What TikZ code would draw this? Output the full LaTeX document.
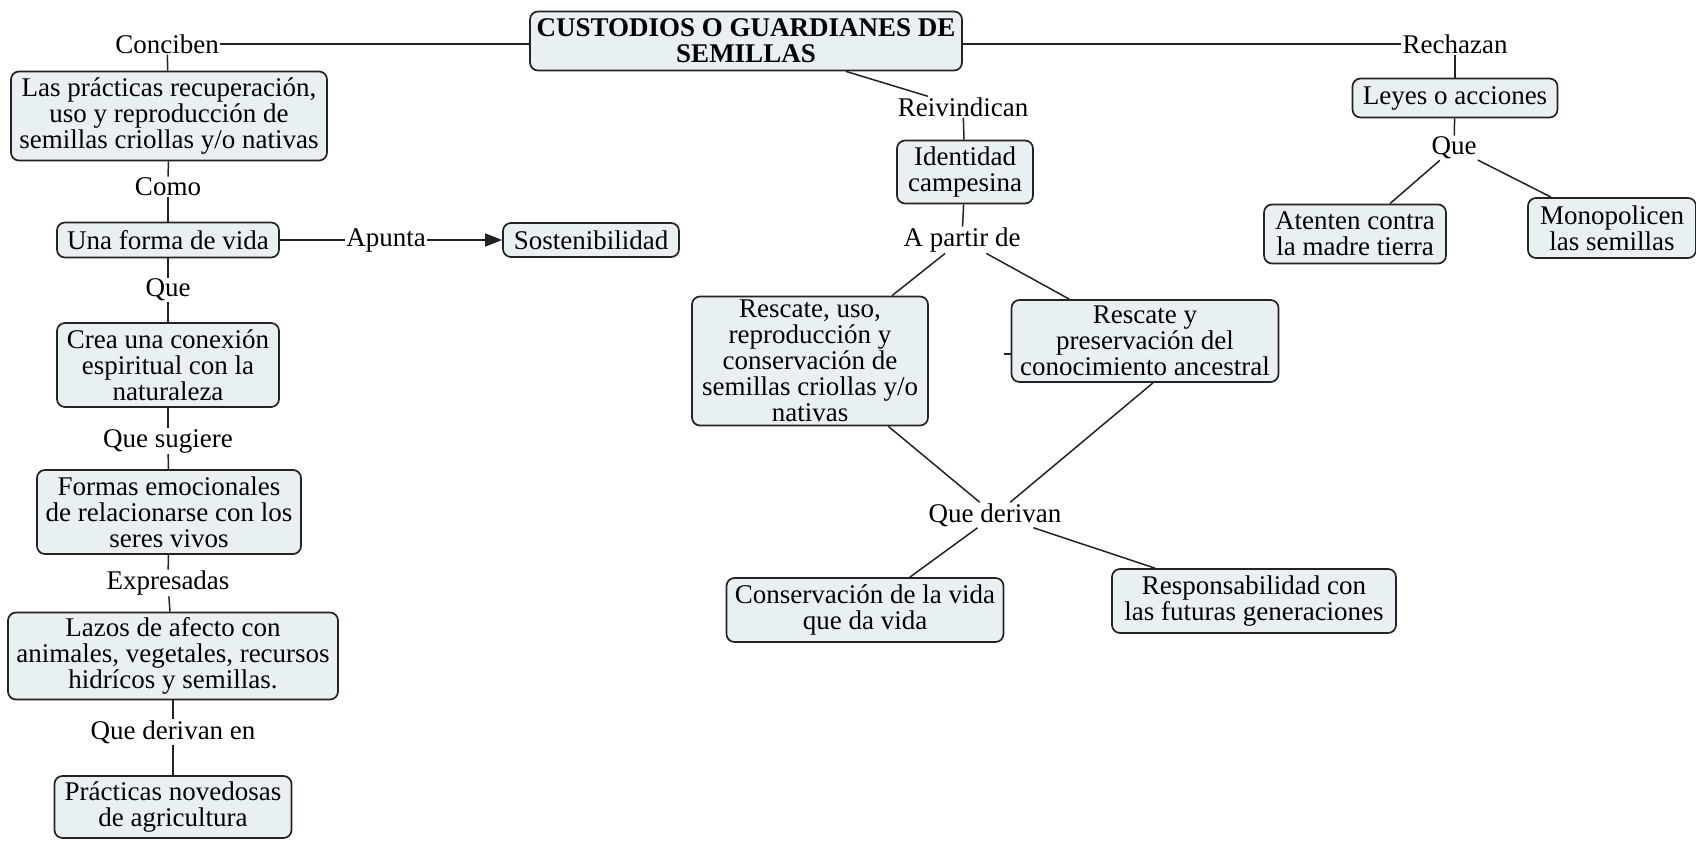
\documentclass[tikz,border=0pt]{standalone}
\usepackage{fontspec}
\setmainfont{Liberation Serif}
\usetikzlibrary{arrows.meta}
\definecolor{boxfill}{RGB}{233,240,243}
\definecolor{edge}{RGB}{35,35,35}
\begin{document}
\begin{tikzpicture}[x=1pt,y=-1pt,
  every node/.style={font=\fontsize{27}{26}\selectfont},
  cbox/.style={draw=edge, fill=boxfill, line width=1.7pt, rounded corners=8pt, align=center, inner sep=0pt},
  sz/.style 2 args={minimum width=#1pt, minimum height=#2pt},
  lbl/.style={align=center, inner sep=1pt},
  conn/.style={draw=edge, line width=1.5pt},
]
\fill[white] (0,0) rectangle (1696,840);
\useasboundingbox (0,0) rectangle (1696,840);

% boxes
\node[cbox, sz={432}{59}, font=\fontsize{27}{26}\selectfont\bfseries] (main) at (746,41) {CUSTODIOS O GUARDIANES DE\\SEMILLAS};
\node[cbox, sz={316}{89}] (prac1) at (169,116) {Las prácticas recuperación,\\uso y reproducción de\\semillas criollas y/o nativas};
\node[cbox, sz={222}{35}] (una) at (168,240) {Una forma de vida};
\node[cbox, sz={176}{34}] (sost) at (591,240) {Sostenibilidad};
\node[cbox, sz={222}{84}] (crea) at (168,365) {Crea una conexión\\espiritual con la\\naturaleza};
\node[cbox, sz={264}{84}] (formas) at (169,512) {Formas emocionales\\de relacionarse con los\\seres vivos};
\node[cbox, sz={330}{87}] (lazos) at (173,656) {Lazos de afecto con\\animales, vegetales, recursos\\hidrícos y semillas.};
\node[cbox, sz={237}{62}] (nuevas) at (173,807) {Prácticas novedosas\\de agricultura};
\node[cbox, sz={136}{63}] (ident) at (965,172) {Identidad\\campesina};
\node[cbox, sz={236}{129}] (ruso) at (810,361) {Rescate, uso,\\reproducción y\\conservación de\\semillas criollas y/o\\nativas};
\node[cbox, sz={267}{82}] (rpres) at (1145,341) {Rescate y\\preservación del\\conocimiento ancestral};
\node[cbox, sz={277}{64}] (conserv) at (865,610) {Conservación de la vida\\que da vida};
\node[cbox, sz={284}{64}] (resp) at (1254,601) {Responsabilidad con\\las futuras generaciones};
\node[cbox, sz={205}{39}] (leyes) at (1455,98) {Leyes o acciones};
\node[cbox, sz={182}{59}] (atenten) at (1355,234) {Atenten contra\\la madre tierra};
\node[cbox, sz={168}{60}] (mono) at (1612,228) {Monopolicen\\las semillas};

% linking phrases
\node[lbl] (conciben) at (167,44) {Conciben};
\node[lbl] (como) at (168,187) {Como};
\node[lbl] (apunta) at (386,240) {Apunta};
\node[lbl] (que1) at (168,290) {Que};
\node[lbl] (quesug) at (168,441) {Que sugiere};
\node[lbl] (expres) at (168,583) {Expresadas};
\node[lbl] (qderen) at (173,732) {Que derivan en};
\node[lbl] (reiv) at (963,107) {Reivindican};
\node[lbl] (apartir) at (962,240) {A partir de};
\node[lbl] (qder) at (995,515) {Que derivan};
\node[lbl] (rech) at (1455,44) {Rechazan};
\node[lbl] (que2) at (1454,148) {Que};

% connectors
\draw[conn] (conciben) -- (conciben -| main.west);
\draw[conn] (conciben) -- (prac1);
\draw[conn] (prac1) -- (como);
\draw[conn] (como) -- (una);
\draw[conn] (una) -- (apunta);
\draw[conn, -{Triangle[length=17pt,width=13pt]}] (apunta) -- (sost);
\draw[conn] (una) -- (que1);
\draw[conn] (que1) -- (crea);
\draw[conn] (crea) -- (quesug);
\draw[conn] (quesug) -- (formas);
\draw[conn] (formas) -- (expres);
\draw[conn] (expres) -- (lazos);
\draw[conn] (lazos) -- (qderen);
\draw[conn] (qderen) -- (nuevas);

\draw[conn] (main) -- (reiv);
\draw[conn] (reiv) -- (ident);
\draw[conn] (ident) -- (apartir);
\draw[conn] (apartir) -- (ruso);
\draw[conn] (apartir) -- (rpres);
\draw[conn] (ruso) -- (qder);
\draw[conn] ([xshift=8pt]rpres.south) -- (qder);
\draw[conn] (qder) -- (conserv);
\draw[conn] (qder) -- (resp);
\draw[conn] ([yshift=-13pt]rpres.west) -- ++(-7,0);

\draw[conn] (main.east |- rech) -- (rech);
\draw[conn] (rech) -- (leyes);
\draw[conn] (leyes) -- (que2);
\draw[conn] (que2) -- (atenten);
\draw[conn] (que2) -- (mono);
\end{tikzpicture}
\end{document}
